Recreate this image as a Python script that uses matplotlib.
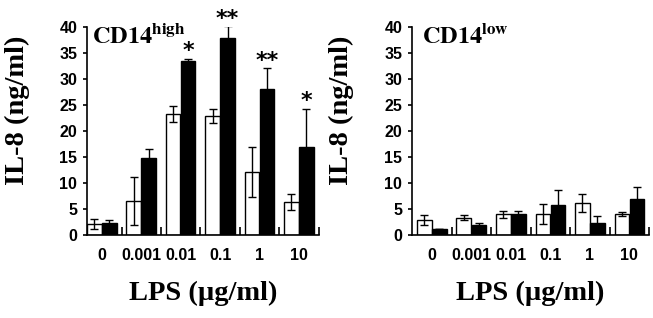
import numpy as np
import matplotlib.pyplot as plt

plt.rcParams['mathtext.fontset'] = 'stix'

doses = ['0', '0.001', '0.01', '0.1', '1', '10']

# CD14 high panel
high_white = [2.1, 6.6, 23.3, 22.9, 12.2, 6.3]
high_white_err = [0.9, 4.6, 1.6, 1.3, 4.8, 1.5]
high_black = [2.3, 14.9, 33.4, 37.8, 28.1, 16.9]
high_black_err = [0.5, 1.6, 0.5, 2.4, 4.0, 7.4]
high_stars = ['', '', '*', '**', '**', '*']

# CD14 low panel
low_white = [2.9, 3.3, 4.0, 4.1, 6.1, 4.1]
low_white_err = [1.0, 0.5, 0.7, 1.9, 1.7, 0.4]
low_black = [1.2, 2.0, 4.0, 5.7, 2.3, 6.9]
low_black_err = [0.0, 0.3, 0.7, 2.9, 1.3, 2.3]
low_stars = ['', '', '', '', '', '']

serif = 'Liberation Serif'
sans = 'Liberation Sans'


def panel(ax, white, werr, black, berr, stars, sup, xleft, title_dx):
    x = np.arange(len(doses))
    w = 0.37
    ax.bar(x - 0.19, white, w, color='white', edgecolor='black', lw=1.0,
           yerr=werr, error_kw=dict(ecolor='black', elinewidth=1.0, capsize=3, capthick=1.0))
    ax.bar(x + 0.19, black, w, color='black', edgecolor='black', lw=1.0,
           yerr=berr, error_kw=dict(ecolor='black', elinewidth=1.0, capsize=3, capthick=1.0))
    for i, s in enumerate(stars):
        if s:
            ax.text(x[i] + 0.19, black[i] + berr[i] - 0.5, s, ha='center', va='bottom',
                    fontsize=16, fontweight='bold', family='DejaVu Sans')
    ax.set_xlim(xleft, 5.5)
    ax.set_ylim(0, 40)
    ax.set_yticks(range(0, 41, 5))
    ax.set_xticks(x)
    ax.set_xticklabels(doses)
    ax.set_xticks(np.arange(0.5, 6, 1), minor=True)
    ax.tick_params(axis='x', which='major', length=0, pad=9)
    ax.tick_params(axis='x', which='minor', direction='in', length=6, width=1.2)
    ax.tick_params(axis='y', direction='out', length=3, width=1.2, pad=4)
    for lab in ax.get_xticklabels() + ax.get_yticklabels():
        lab.set_fontfamily(sans)
        lab.set_fontweight('bold')
        lab.set_fontsize(11.5)
    for s in ['top', 'right']:
        ax.spines[s].set_visible(False)
    for s in ['left', 'bottom']:
        ax.spines[s].set_linewidth(1.2)
    ax.set_ylabel('IL-8 (ng/ml)', family=serif, fontweight='bold', fontsize=20.5)
    ax.yaxis.set_label_coords(-0.245, 0.6)
    ax.set_xlabel('LPS (\u00b5g/ml)', family=serif, fontweight='bold', fontsize=20.5, labelpad=13)
    ax.annotate(r'$\mathbf{CD14}^{\mathbf{%s}}$' % sup, xy=(0, 1), xycoords='axes fraction',
                xytext=(title_dx, 3), textcoords='offset pixels',
                ha='left', va='top', fontsize=17.5)


fig = plt.figure(figsize=(6.53, 3.18), dpi=100)
ax1 = fig.add_axes([0.133, 0.261, 0.355, 0.654])
ax2 = fig.add_axes([0.631, 0.261, 0.363, 0.654])
panel(ax1, high_white, high_white_err, high_black, high_black_err, high_stars, 'high', -0.38, 5)
panel(ax2, low_white, low_white_err, low_black, low_black_err, low_stars, 'low', -0.5, 10)
fig.savefig('out.png', dpi=100)
